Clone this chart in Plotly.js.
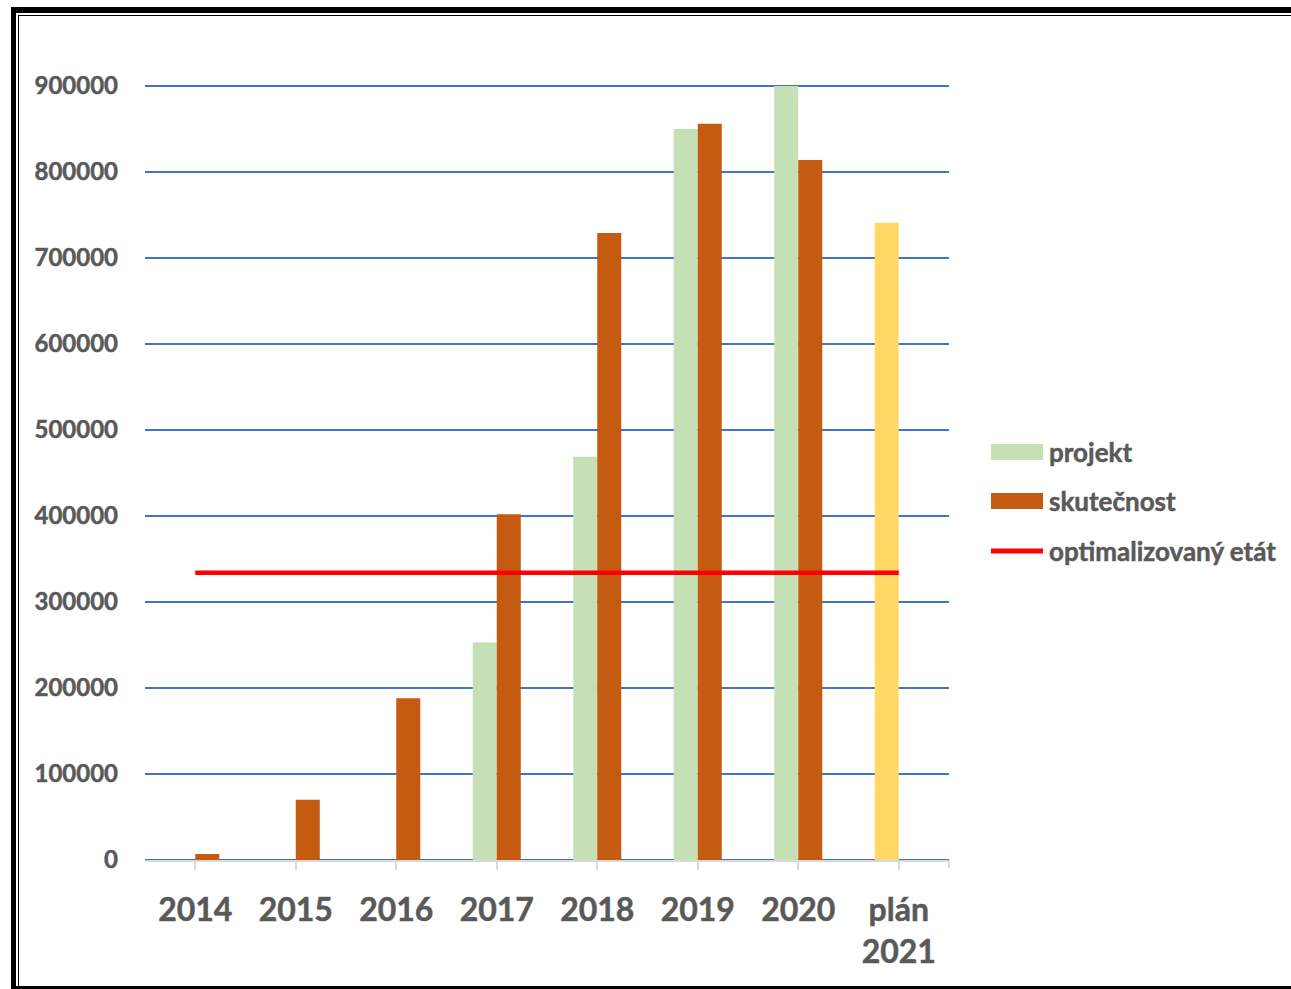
<!DOCTYPE html>
<html><head><meta charset="utf-8">
<script src="https://cdn.plot.ly/plotly-3.0.1.min.js"></script>
<style>
html,body{margin:0;padding:0;overflow:hidden;background:#fff;width:1291px;height:989px}
#chart{position:absolute;left:0;top:0;width:1291px;height:989px}
#chart svg text{stroke:#595959;stroke-width:0.5px}
#f1{position:absolute;left:11px;top:7px;width:1400px;height:985px;border-left:5px solid #000;border-top:6px solid #000;border-bottom:6px solid #000;box-sizing:border-box;pointer-events:none}
#f2{position:absolute;left:18px;top:15px;width:1400px;height:1000px;border-left:1px solid #000;border-top:1px solid #000;box-sizing:border-box;pointer-events:none}
</style></head>
<body>
<div id="chart"></div>
<div id="f1"></div>
<div id="f2"></div>
<script>
var categories = ['2014','2015','2016','2017','2018','2019','2020','plán<br>2021'];
var projekt = [null, null, null, 253000, 469000, 850000, 900000, 741000];
var projektColors = ['#C5E0B4','#C5E0B4','#C5E0B4','#C5E0B4','#C5E0B4','#C5E0B4','#C5E0B4','#FFD966'];
var skutecnost = [7000, 70000, 188000, 402000, 729000, 856000, 814000, null];
var etat = [334000, 334000, 334000, 334000, 334000, 334000, 334000, 334000];
var seriesNames = ['projekt', 'skutečnost', 'optimalizovaný etát'];
var seriesColors = ['#C5E0B4', '#C55A11', '#FF0000'];
var yTicks = [0, 100000, 200000, 300000, 400000, 500000, 600000, 700000, 800000, 900000];

var textColor = '#595959';
var fam = 'Lato, "Open Sans", sans-serif';

var traces = [
  {type:'bar', name:seriesNames[0], x:categories, y:projekt, marker:{color:projektColors}},
  {type:'bar', name:seriesNames[1], x:categories, y:skutecnost, marker:{color:seriesColors[1]}},
  {type:'scatter', mode:'lines', name:seriesNames[2], x:categories, y:etat, line:{color:seriesColors[2], width:4.5}}
];

// manual legend (pixel layout converted to paper coordinates)
var L = 145, W = 804, B = 860, H = 776;
function px(x){ return (x - L) / W; }
function py(y){ return (B - y) / H; }
var legendRows = [452, 501, 551];
var annotations = [], shapes = [];
for (var i = 0; i < seriesNames.length; i++) {
  annotations.push({xref:'paper', yref:'paper', x:px(1047), y:py(legendRows[i]), xanchor:'left', yanchor:'middle',
    text:seriesNames[i], showarrow:false, font:{family:fam, size:26, color:textColor, weight:'bold'}});
  if (i < 2) {
    shapes.push({type:'rect', xref:'paper', yref:'paper', x0:px(991), x1:px(1043), y0:py(legendRows[i]+8), y1:py(legendRows[i]-8),
      fillcolor:seriesColors[i], line:{width:0}});
  } else {
    shapes.push({type:'line', xref:'paper', yref:'paper', x0:px(991), x1:px(1043), y0:py(legendRows[i]), y1:py(legendRows[i]),
      line:{color:seriesColors[i], width:5}});
  }
}
shapes.push({type:'line', xref:'paper', yref:'paper', x0:1, x1:1, y0:0, y1:-0.0103, line:{color:'#D9D9D9', width:2}});

var layout = {
  width:1291, height:989,
  margin:{l:145, r:342, t:84, b:129},
  paper_bgcolor:'#fff', plot_bgcolor:'#fff',
  barmode:'group', bargap:0.522, bargroupgap:0,
  showlegend:false,
  xaxis:{type:'category', tickfont:{family:fam, size:32, color:textColor, weight:'bold'}, ticks:'outside', ticklen:8, tickwidth:2, tickcolor:'#D9D9D9', showline:true, linecolor:'#D9D9D9', linewidth:2, showgrid:false, ticklabelstandoff:13, fixedrange:true},
  yaxis:{range:[0,902326], tickvals:yTicks, tickformat:'d', gridcolor:'#4472C4', gridwidth:2, zeroline:true, zerolinecolor:'#4472C4', zerolinewidth:2, showline:false, tickfont:{family:fam, size:24, color:textColor, weight:'bold'}, ticklabelstandoff:26, fixedrange:true},
  annotations:annotations,
  shapes:shapes
};
Plotly.newPlot('chart', traces, layout, {displayModeBar:false, staticPlot:true});
</script>
</body></html>
